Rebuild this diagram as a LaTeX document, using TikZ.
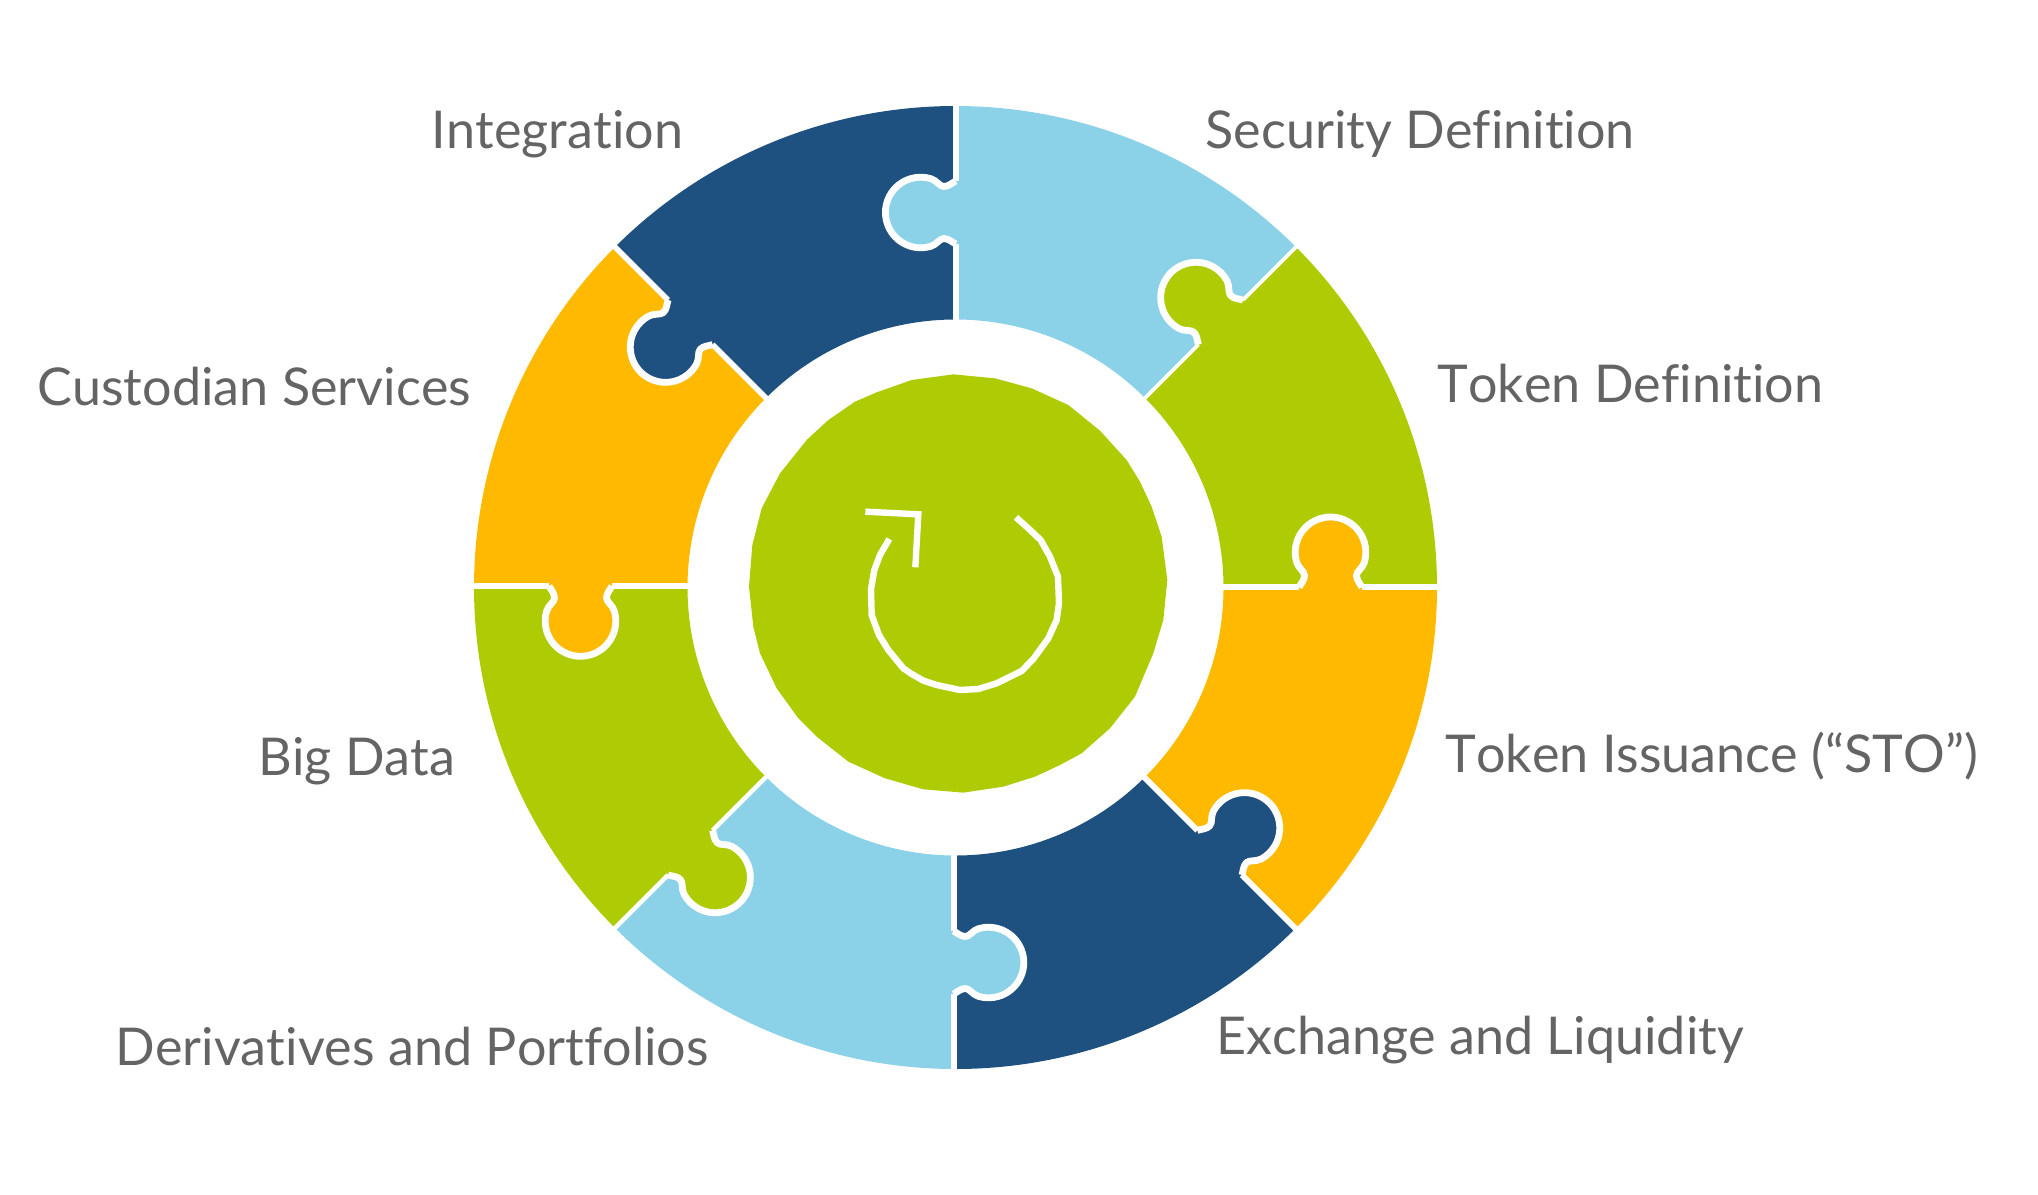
\documentclass[tikz,border=0pt]{standalone}
\usepackage{fontspec}
\setmainfont[Ligatures=NoCommon,Kerning=Off,RawFeature={-liga;-clig;-dlig}]{Lato}
\definecolor{leaf}{HTML}{AFCB04}
\definecolor{sky}{HTML}{8BD2E9}
\definecolor{navy}{HTML}{1E517F}
\definecolor{amber}{HTML}{FFBA00}
\definecolor{inkgray}{HTML}{646464}
\tikzset{
  label text/.style={anchor=base west,inner sep=0pt,text=inkgray,font=\fontsize{26.05pt}{30pt}\selectfont},
  seam line/.style={draw=white,line join=round},
  hub line/.style={white,line width=3.2pt,line join=miter}
}
% sector: start angle, end angle, colour
\newcommand{\ringsector}[3]{\fill[#3] (#1:268) arc[start angle=#1,end angle=#2,radius=268] -- (#2:481.5) arc[start angle=#2,end angle=#1,radius=481.5] -- cycle;}
% seam: angle, knob colour, line width, shift
\newcommand{\knobpath}{(343.5,0) .. controls (345.5,4) and (349,7) .. (349,12) .. controls (349,16) and (342.9,19.1) .. (341.2,24.9) arc[start angle=196.6,end angle=-16.6,radius=35.3] .. controls (407.1,19.1) and (401,16) .. (401,12) .. controls (401,7) and (404.5,4) .. (406.5,0)}
\newcommand{\seam}[4]{\begin{scope}[shift={(#4)},rotate=-#1]
  \fill[#2] \knobpath -- (406.5,-4) -- (343.5,-4) -- cycle;
  \draw[seam line,line width=#3] (266,0) -- (343.5,0) (406.5,0) -- (484,0);
  \draw[seam line,line width=3.4pt] \knobpath;
\end{scope}}
\begin{document}
\begin{tikzpicture}[x=0.5pt,y=-0.5pt]
\useasboundingbox (0,0) rectangle (2038,1194);
\begin{scope}[shift={(955.5,587.5)},yscale=-1]
  \ringsector{45}{90}{sky}
  \ringsector{90}{135}{navy}
  \ringsector{135}{180}{amber}
  \ringsector{180}{225}{leaf}
  \ringsector{225}{270}{sky}
  \ringsector{270}{315}{navy}
  \ringsector{315}{360}{amber}
  \ringsector{0}{45}{leaf}
  \seam{90}{sky}{3pt}{0.2,0}
  \seam{45}{leaf}{1.9pt}{0,0}
  \seam{0}{amber}{3pt}{0,0.2}
  \seam{-45}{navy}{3pt}{-1,0}
  \seam{-90}{sky}{3pt}{-2,0}
  \seam{-135}{leaf}{2.2pt}{0,0}
  \seam{180}{amber}{3pt}{0,1.5}
  \seam{135}{navy}{2.8pt}{0,0}
\end{scope}
\begin{scope}[shift={(735,360)},x=1/6*1pt,y=-1/6*1pt]
  \fill[leaf] (655,43)--(780,55)--(890,85)--(1000,135)--(1095,212)--(1175,300)--(1215,365)--(1250,440)--(1280,530)--(1297,660)--(1285,780)--(1255,880)--(1200,1010)--(1125,1105)--(1040,1180)--(975,1215)--(900,1250)--(805,1280)--(685,1298)--(565,1288)--(450,1255)--(340,1205)--(245,1130)--(190,1075)--(125,985)--(75,880)--(55,800)--(42,680)--(52,555)--(80,445)--(135,340)--(215,240)--(280,180)--(360,125)--(425,97)--(530,60)--cycle;
  \draw[hub line] (463,537)--(435,585)--(418,630)--(408,688)--(410,765)--(432,825)--(460,870)--(505,925)--(530,942)--(565,962)--(605,975)--(675,990)--(730,987)--(785,970)--(860,933)--(895,897)--(940,835)--(965,780)--(972,730)--(969,650)--(945,590)--(917,540)--(880,505)--(843,472);
  \draw[hub line] (391,455)--(550,463)--(541,622);
\end{scope}
\node[label text] (integration) at (431.5,148.5) {Integration};
\node[label text] (security) at (1205,148.5) {Security Definition};
\node[label text] (tokendef) at (1437,402.5) {Token Definition};
\node[label text] (custodian) at (37,405) {Custodian Services};
\node[label text] (bigdata) at (258,775) {Big Data};
\node[label text] (tokeniss) at (1445,772) {Token Issuance (“STO”)};
\node[label text] (exchange) at (1216,1054.5) {Exchange and Liquidity};
\node[label text] (derivatives) at (115,1065.5) {Derivatives and Portfolios};
\end{tikzpicture}
\end{document}
